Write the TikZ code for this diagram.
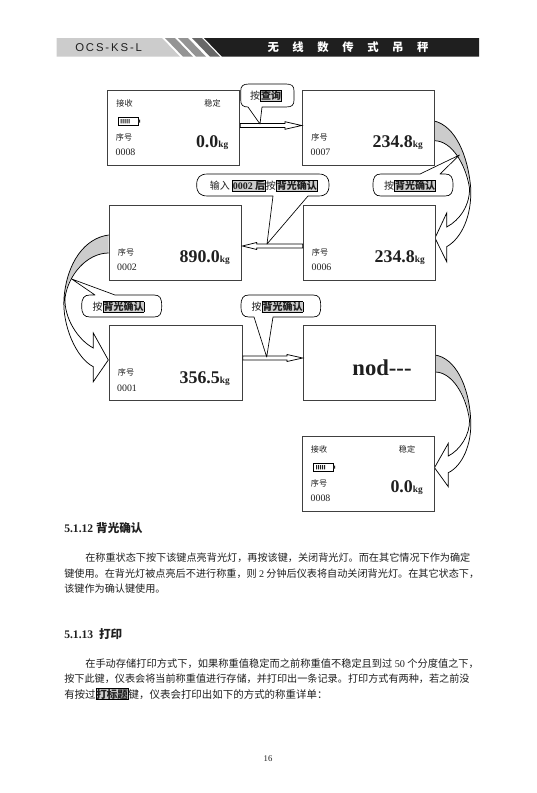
\documentclass[tikz,border=0pt]{standalone}
\usepackage{fontspec}
\setmainfont{Liberation Serif}
\newfontfamily\cjk{Noto Sans CJK SC}
\newfontfamily\hfont{Liberation Sans}
\usetikzlibrary{calc}
\definecolor{band}{gray}{0.80}
\definecolor{stripe}{gray}{0.58}
\definecolor{ink}{gray}{0.12}
\definecolor{edge}{gray}{0.25}
\tikzset{
 x=0.75pt,y=-0.75pt,
 screen/.style={draw=edge,line width=0.75pt,fill=white,minimum width=99.5pt,minimum height=56.2pt,inner sep=0pt,anchor=north west},
 tiny/.style={font=\cjk\fontsize{6.1}{7}\selectfont,text=ink,inner sep=0pt},
 num/.style={font=\fontsize{7.4}{8}\selectfont,text=ink,inner sep=0pt},
 weight/.style={font=\bfseries\fontsize{13.4}{14}\selectfont,text=ink,inner sep=0pt,anchor=base east},
 bubble/.style={draw=black,line width=0.5pt,fill=white,line join=round},
 btxt/.style={font=\cjk\fontsize{7.5}{9}\selectfont,text=ink,inner sep=0pt},
 para/.style={font=\cjk\fontsize{7.6}{9}\selectfont,text=ink,inner sep=0pt,anchor=base west},
 para wide/.style={para,font=\cjk\fontsize{7.68}{9}\selectfont},
 para last/.style={para,font=\cjk\fontsize{7.85}{9}\selectfont},
 sect/.style={font=\bfseries\fontsize{8.7}{10}\selectfont,text=ink,inner sep=0pt,anchor=base west},
 arrowline/.style={draw=black,line width=0.55pt,fill=white,line join=miter},
 ribbonfill/.style={fill=band,draw=none},
 ribbon/.style={draw=black,line width=0.55pt,line join=miter},
}
\newcommand{\keycap}[1]{\fcolorbox{black}{band}{\cjk\bfseries #1}}
\newcommand{\kg}{{\fontsize{7}{8}\selectfont kg}}
\setlength{\fboxsep}{0.2pt}
\setlength{\fboxrule}{0.4pt}
\begin{document}
\begin{tikzpicture}
\useasboundingbox (0,0) rectangle (536,793);
\fill[white] (0,0) rectangle (536,793);
% header
\fill[band] (56.7,38) -- (162,38) -- (180,56.7) -- (56.7,56.7) -- cycle;
\fill[stripe] (165,38) -- (175,38) -- (193,56.7) -- (183,56.7) -- cycle;
\fill[stripe] (178,38) -- (188,38) -- (206,56.7) -- (196,56.7) -- cycle;
\fill[stripe!70!black] (192,38) -- (202,38) -- (220,56.7) -- (210,56.7) -- cycle;
\fill[ink] (204,38) -- (479,38) -- (479,56.7) -- (222,56.7) -- cycle;
\node[font=\hfont\fontsize{8.5}{10}\selectfont,text=ink,anchor=west,inner sep=0pt] (hdrl) at (75,47.5) {O\,C\,S\,-\,K\,S\,-\,L};
\node[font=\cjk\bfseries\fontsize{8.5}{10}\selectfont,text=white,inner sep=0pt] (hdrr) at (348,47) {无\hspace{1.2em}线\hspace{1.2em}数\hspace{1.2em}传\hspace{1.2em}式\hspace{1.2em}吊\hspace{1.2em}秤};

% curved arrows (behind the boxes)
% A : box2 -> box4
\fill[white] (434.3,140.7) .. controls (452,140.7) and (466,165) .. (469.5,188) .. controls (470,205) and (460,220) .. (446.7,227) -- (446.7,213) -- (435,238) -- (446.7,261.7) -- (446.7,246.7) .. controls (462,238) and (472,215) .. (470.7,188) .. controls (468,155) and (455,126) .. (434.3,121) -- cycle;
\fill[ribbonfill] (434.3,121) .. controls (455,126) and (468,155) .. (470.7,188) .. controls (467,165) and (452,140.7) .. (434.3,140.7) -- cycle;
\draw[ribbon] (434.3,140.7) .. controls (452,140.7) and (466,165) .. (469.5,188) .. controls (470,205) and (460,220) .. (446.7,227) -- (446.7,213) -- (435,238) -- (446.7,261.7) -- (446.7,246.7) .. controls (462,238) and (472,215) .. (470.7,188) .. controls (468,155) and (455,126) .. (434.3,121);
% B : box3 -> box5
\fill[white] (108.7,253) .. controls (87,253) and (68,275) .. (65,298) .. controls (64,318) and (78,340) .. (93.3,348) -- (93.3,333) -- (108.3,360) -- (93.3,381.7) -- (93.3,366.7) .. controls (76,358) and (62,325) .. (64,298) .. controls (67,262) and (85,238) .. (108.7,235) -- cycle;
\fill[ribbonfill] (108.7,235) .. controls (85,238) and (67,262) .. (64,298) .. controls (67,275) and (87,253) .. (108.7,253) -- cycle;
\draw[ribbon] (108.7,253) .. controls (87,253) and (68,275) .. (65,298) .. controls (64,318) and (78,340) .. (93.3,348) -- (93.3,333) -- (108.3,360) -- (93.3,381.7) -- (93.3,366.7) .. controls (76,358) and (62,325) .. (64,298) .. controls (67,262) and (85,238) .. (108.7,235);
% C : box6 -> box7
\fill[white] (435,372) .. controls (452,372) and (466,395) .. (469.5,420) .. controls (470,435) and (460,450) .. (448.3,456) -- (448.3,443.3) -- (434.5,467.7) -- (448.3,486.7) -- (448.3,472.7) .. controls (462,466) and (472,445) .. (470.7,420) .. controls (469,385) and (455,358) .. (435,355) -- cycle;
\fill[ribbonfill] (435,355) .. controls (455,358) and (469,385) .. (470.7,420) .. controls (467,395) and (452,372) .. (435,372) -- cycle;
\draw[ribbon] (435,372) .. controls (452,372) and (466,395) .. (469.5,420) .. controls (470,435) and (460,450) .. (448.3,456) -- (448.3,443.3) -- (434.5,467.7) -- (448.3,486.7) -- (448.3,472.7) .. controls (462,466) and (472,445) .. (470.7,420) .. controls (469,385) and (455,358) .. (435,355);

% screens
\node[screen] (s1) at (106.7,90) {};
\node[screen] (s2) at (301.7,90) {};
\node[screen] (s3) at (108.7,204.7) {};
\node[screen] (s4) at (302.7,204.7) {};
\node[screen] (s5) at (109,325) {};
\node[screen] (s6) at (302.7,325) {};
\node[screen] (s7) at (301.7,435.7) {};

% straight arrows
\coordinate (a1s) at (s1.east|-0,125.5);
\coordinate (a1t) at (s2.west|-0,125.5);
\draw[arrowline] (a1s)+(0,-2) -- (285,123.5) -- (285,121.7) -- (a1t) -- (285,129.3) -- (285,127.5) -- ($(a1s)+(0,2)$) -- cycle;
\coordinate (a2s) at (s4.west|-0,246);
\coordinate (a2t) at (s3.east|-0,246);
\draw[arrowline] (a2s)+(0,-2) -- (256.7,244) -- (256.7,242.5) -- (a2t) -- (256.7,249.5) -- (256.7,248) -- ($(a2s)+(0,2)$) -- cycle;
\coordinate (a3s) at (s5.east|-0,358);
\coordinate (a3t) at (s6.west|-0,358);
\draw[arrowline] (a3s)+(0,-2) -- (287,356) -- (287,354.5) -- (a3t) -- (287,361.5) -- (287,360) -- ($(a3s)+(0,2)$) -- cycle;

% callouts
\draw[bubble] (248,107) -- (260,124) -- (262,107) -- (286,107) .. controls (292,107) and (294,105) .. (294,100) -- (294,91) .. controls (294,86) and (292,84) .. (286,84) -- (249,84) .. controls (243,84) and (240.7,86) .. (240.7,91) -- (240.7,100) .. controls (240.7,105) and (243,107) .. (248,107);
\draw[bubble] (273,196) -- (267,244) -- (308,196) -- (318,196) .. controls (326,196) and (329,193) .. (329,185) .. controls (329,177) and (326,174) .. (318,174) -- (208,174) .. controls (200,174) and (196.7,177) .. (196.7,185) .. controls (196.7,193) and (200,196) .. (208,196) -- cycle;
\draw[bubble] (420,174) -- (459.5,155) -- (440,174) -- (445,174) .. controls (451,174) and (453,177) .. (453,185) .. controls (453,193) and (451,196) .. (445,196) -- (381,196) .. controls (375,196) and (373,193) .. (373,185) .. controls (373,177) and (375,174) .. (381,174) -- cycle;
\draw[bubble] (95,295) -- (71.7,279) -- (115,295) -- (154,295) .. controls (160,295) and (161.7,298) .. (161.7,306) .. controls (161.7,314) and (160,317) .. (154,317) -- (90,317) .. controls (84,317) and (81.7,314) .. (81.7,306) .. controls (81.7,298) and (84,295) .. (90,295) -- cycle;
\draw[bubble] (254,317) -- (266.7,357) -- (273,317) -- (313,317) .. controls (319,317) and (320.7,314) .. (320.7,306) .. controls (320.7,298) and (319,295) .. (313,295) -- (249,295) .. controls (243,295) and (241,298) .. (241,306) .. controls (241,314) and (243,317) .. (249,317) -- cycle;
\node[btxt] (c1) at (266,96) {按\keycap{查询}};
\node[btxt] (c2) at (263.7,186) {输入 \keycap{{\rmfamily 0002} 后}按\keycap{背光确认}};
\node[btxt] (c3) at (410,186) {按\keycap{背光确认}};
\node[btxt] (c4) at (118.5,307) {按\keycap{背光确认}};
\node[btxt] (c5) at (277.5,307) {按\keycap{背光确认}};

% screen 1
\node[tiny] (s1a) at (124.5,103) {接收};
\node[tiny] (s1b) at (212.5,103) {稳定};
\draw[black,line width=0.3pt] (118.5,117) rectangle (138,125);
\fill[ink] (120.5,119) rectangle (121.5,123.3) (122.5,119) rectangle (123.5,123.3) (124.5,119) rectangle (125.5,123.3) (126.5,119) rectangle (127.5,123.3) (128.5,119) rectangle (129.5,123.3) (138,119.5) rectangle (140,122.5);
\node[tiny] (s1c) at (124,137) {序号};
\node[num] (s1d) at (125.5,152.5) {0008};
\node[weight] (s1w) at (228.5,147) {0.0\kg};
% screen 2
\node[tiny] (s2c) at (319.5,137) {序号};
\node[num] (s2d) at (320.5,152.5) {0007};
\node[weight] (s2w) at (423,147) {234.8\kg};
% screen 3
\node[tiny] (s3c) at (126,252) {序号};
\node[num] (s3d) at (127,267.5) {0002};
\node[weight] (s3w) at (230,262.7) {890.0\kg};
% screen 4
\node[tiny] (s4c) at (320,252) {序号};
\node[num] (s4d) at (321.5,267.5) {0006};
\node[weight] (s4w) at (425,262.7) {234.8\kg};
% screen 5
\node[tiny] (s5c) at (126,372) {序号};
\node[num] (s5d) at (127,388) {0001};
\node[weight] (s5w) at (230,383) {356.5\kg};
% screen 6
\node[font=\bfseries\fontsize{17}{19}\selectfont,text=ink,inner sep=0pt,anchor=base] (s6w) at (382,375) {nod{-}{-}{-}};
% screen 7
\node[tiny] (s7a) at (319,449) {接收};
\node[tiny] (s7b) at (407,449) {稳定};
\draw[black,line width=0.3pt] (313,463) rectangle (333,471);
\fill[ink] (316,465) rectangle (317,469.3) (318,465) rectangle (319,469.3) (320,465) rectangle (321,469.3) (322,465) rectangle (323,469.3) (324,465) rectangle (325,469.3) (333,465.5) rectangle (335,468.5);
\node[tiny] (s7c) at (319,483) {序号};
\node[num] (s7d) at (320.5,498.5) {0008};
\node[weight] (s7w) at (423,492.7) {0.0\kg};

% text
\node[sect] (h1) at (64,532) {5.1.12 {\cjk 背光确认}};
\node[para] (p1) at (85,561.5) {在称重状态下按下该键点亮背光灯，再按该键，关闭背光灯。而在其它情况下作为确定};
\node[para] (p2) at (64,577) {键使用。在背光灯被点亮后不进行称重，则 {\rmfamily 2} 分钟后仪表将自动关闭背光灯。在其它状态下，};
\node[para] (p3) at (64,592) {该键作为确认键使用。};
\node[sect] (h2) at (64,638) {5.1.13\ \ {\cjk 打印}};
\node[para wide] (p4) at (85,667) {在手动存储打印方式下，如果称重值稳定而之前称重值不稳定且到过 {\rmfamily 50} 个分度值之下，};
\node[para] (p5) at (64,682.5) {按下此键，仪表会将当前称重值进行存储，并打印出一条记录。打印方式有两种，若之前没};
\node[para last] (p6) at (64,698) {有按过\keycap{打标题}键，仪表会打印出如下的方式的称重详单：};
\node[font=\fontsize{6.5}{8}\selectfont,text=ink,inner sep=0pt] (pg) at (268,759) {16};
\end{tikzpicture}
\end{document}
